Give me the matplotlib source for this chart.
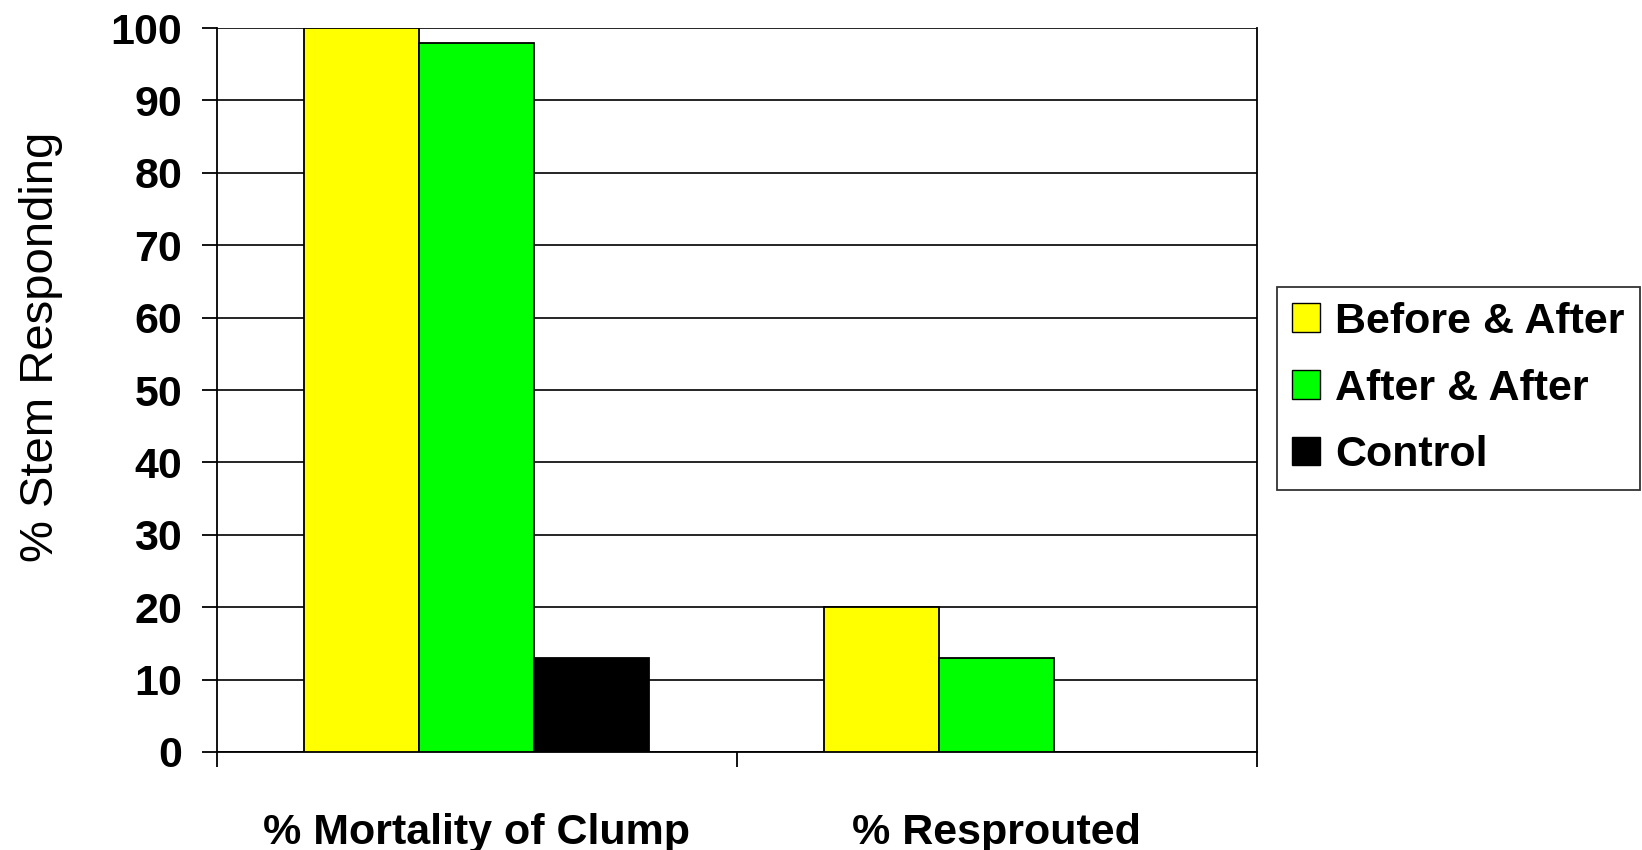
import numpy as np
import matplotlib.pyplot as plt
from matplotlib.patches import Patch

categories = ['% Mortality of Clump', '% Resprouted']
series = ['Before & After', 'After & After', 'Control']
before_after = [100, 20]
after_after = [98, 13]
control = [13, 0]
colors = ['#ffff00', '#00ff00', '#000000']

plt.rcParams['font.family'] = 'Liberation Sans'

fig = plt.figure(figsize=(16.42, 8.5), dpi=100)
ax = fig.add_axes([0.132, 0.1153, 0.6335, 0.8517])

x = np.arange(len(categories))
w = 0.221
values = [before_after, after_after, control]
for i, (name, vals, c) in enumerate(zip(series, values, colors)):
    ax.bar(x + (i - 1) * w, vals, width=w, color=c, edgecolor='black',
           linewidth=1.3, zorder=3, label=name)

ax.set_xlim(-0.5, 1.5)
ax.set_ylim(0, 100)
ax.set_yticks(np.arange(0, 101, 10))
ax.yaxis.grid(True, color='black', linewidth=1.2, zorder=0)
ax.spines['top'].set_visible(False)
for s in ['left', 'right', 'bottom']:
    ax.spines[s].set_linewidth(1.3)

# category labels centred, tick marks between categories
ax.set_xticks(x)
ax.set_xticklabels(categories, fontsize=31, fontweight='bold')
ax.set_xticks([-0.5, 0.5, 1.5], minor=True)
ax.tick_params(axis='x', which='major', length=0, pad=44)
ax.tick_params(axis='x', which='minor', length=11, width=1.3, direction='out')
ax.tick_params(axis='y', length=11, width=1.3, pad=14)
for lab in ax.get_yticklabels():
    lab.set_fontsize(31)
    lab.set_fontweight('bold')

ax.set_ylabel('% Stem Responding', fontsize=34, labelpad=34)
ax.yaxis.label.set_y(0.56)

handles = [Patch(facecolor=c, edgecolor='black', linewidth=1.0) for c in colors]
leg = fig.legend(handles, series, loc='center left',
                 bbox_to_anchor=(1277 / 1642, 1 - 388.5 / 850),
                 prop={'family': 'Liberation Sans', 'weight': 'bold', 'size': 31},
                 frameon=True, fancybox=False, edgecolor='black',
                 handlelength=0.65, handleheight=0.65, handletextpad=0.35,
                 labelspacing=0.62, borderpad=0.35, borderaxespad=0)
leg.get_frame().set_linewidth(1.3)

fig.savefig('out.png', dpi=100)
